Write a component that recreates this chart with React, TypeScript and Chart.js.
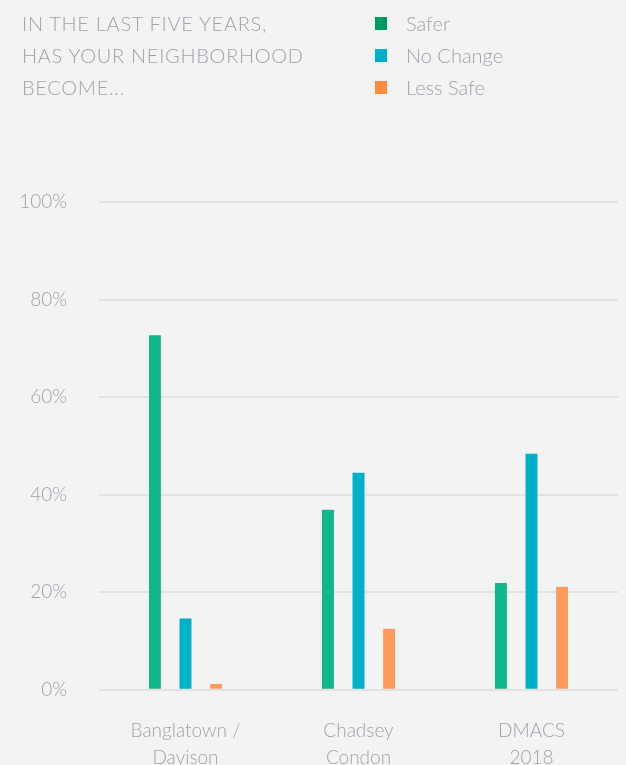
import React, { useEffect, useRef } from "react";
import { Chart, registerables } from "chart.js";

Chart.register(...registerables);

const categories: string[][] = [["Banglatown /", "Davison"], ["Chadsey", "Condon"], ["DMACS", "2018"]];
const seriesNames: string[] = ["Safer", "No Change", "Less Safe"];
const saferValues: number[] = [72.7, 36.9, 21.9];
const noChangeValues: number[] = [14.6, 44.5, 48.4];
const lessSafeValues: number[] = [1.2, 12.5, 21.1];
const barColors: string[] = ["#12b589", "#00afc8", "#ff9a5c"];
const legendColors: string[] = ["#00995f", "#00aec9", "#ff8c40"];
const yTicks: number[] = [0, 20, 40, 60, 80, 100];
const titleLines: string[] = ["IN THE LAST FIVE YEARS,", "HAS YOUR NEIGHBORHOOD", "BECOME..."];

const TEXT = "#9fa2ac";
const FONT = "Lato, 'Open Sans', sans-serif";

export default function App() {
  const ref = useRef<HTMLCanvasElement | null>(null);

  useEffect(() => {
    document.body.style.margin = "0";
    document.body.style.overflow = "hidden";
    document.body.style.background = "#f3f3f3";
    const values = [saferValues, noChangeValues, lessSafeValues];
    const chart = new Chart(ref.current as HTMLCanvasElement, {
      type: "bar",
      data: {
        labels: categories,
        datasets: seriesNames.map((name, i) => ({
          label: name,
          data: values[i],
          backgroundColor: barColors[i],
          borderWidth: 0,
          barPercentage: 0.39,
          categoryPercentage: 0.53,
        })),
      },
      options: {
        animation: false,
        responsive: false,
        maintainAspectRatio: false,
        layout: { padding: { top: 202, right: 8, left: 0, bottom: 0 } },
        plugins: { legend: { display: false }, tooltip: { enabled: false } },
        scales: {
          y: {
            min: 0,
            max: 100,
            afterBuildTicks: (axis: any) => {
              axis.ticks = yTicks.map((v) => ({ value: v }));
            },
            afterFit: (axis: any) => {
              axis.width = 99;
            },
            ticks: {
              callback: (v: any) => v + "%",
              color: TEXT,
              font: { family: FONT, size: 19, weight: "300" },
              padding: 32,
            },
            grid: { color: "#e2e2e2", lineWidth: 2, drawTicks: false },
            border: { display: false },
          },
          x: {
            ticks: {
              color: TEXT,
              font: { family: FONT, size: 19, weight: "300", lineHeight: 1.4 },
              padding: 28,
              maxRotation: 0,
            },
            grid: { display: false, drawTicks: false },
            border: { display: false },
          },
        },
      },
    });
    return () => chart.destroy();
  }, []);

  return (
    <div style={{ position: "relative", width: 626, height: 765, background: "#f3f3f3", overflow: "hidden" }}>
      <canvas ref={ref} width={626} height={799} style={{ position: "absolute", left: 0, top: 0, width: 626, height: 799 }} />
      <div
        style={{
          position: "absolute",
          left: 22,
          top: 7,
          fontFamily: FONT,
          fontWeight: 300,
          fontSize: 20,
          lineHeight: "32px",
          letterSpacing: "0.7px",
          color: TEXT,
          whiteSpace: "nowrap",
        }}
      >
        {titleLines.map((t, i) => (
          <div key={i}>{t}</div>
        ))}
      </div>
      <div style={{ position: "absolute", left: 375, top: 7, fontFamily: FONT, fontWeight: 300, fontSize: 20, color: TEXT }}>
        {seriesNames.map((n, i) => (
          <div key={i} style={{ display: "flex", alignItems: "center", height: 32 }}>
            <span style={{ display: "inline-block", width: 12, height: 13, background: legendColors[i], marginRight: 19 }} />
            <span>{n}</span>
          </div>
        ))}
      </div>
    </div>
  );
}
